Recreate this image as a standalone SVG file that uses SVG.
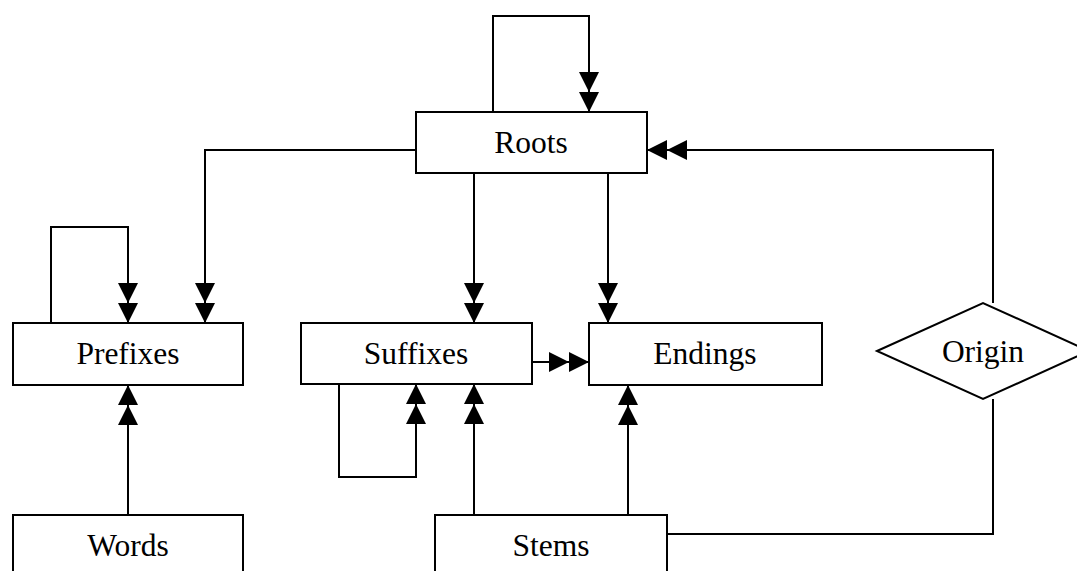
<svg xmlns="http://www.w3.org/2000/svg" width="1077" height="571" viewBox="0 0 1077 571">
<style>
.box{fill:#fff;stroke:#000;stroke-width:2}
.lbl{font-family:"Liberation Serif","Times New Roman",serif;font-size:31.5px;fill:#000;text-anchor:middle}
.c{fill:none;stroke:#000;stroke-width:2}
.a{marker-end:url(#dbl)}
</style>
<defs>
<marker id="dbl" viewBox="0 0 40 20" refX="40" refY="10" markerWidth="40" markerHeight="20" markerUnits="userSpaceOnUse" orient="auto">
<path d="M0,0 L20,10 L0,20 Z M20,0 L40,10 L20,20 Z" fill="#000"/>
</marker>
</defs>
<rect width="1077" height="571" fill="#fff"/>
<g id="connectors">
<path class="c a" d="M493,112 V16 H589 V112"/>
<path class="c a" d="M416,150 H205 V323"/>
<path class="c a" d="M51,323 V227 H128 V323"/>
<path class="c a" d="M474,173 V323"/>
<path class="c a" d="M608,173 V323"/>
<path class="c a" d="M532,362 H589"/>
<path class="c a" d="M339,384 V477 H416 V384"/>
<path class="c a" d="M128,515 V385"/>
<path class="c a" d="M474,515 V384"/>
<path class="c a" d="M628,515 V385"/>
<path class="c a" d="M993,303 V150 H647"/>
<path class="c" d="M667,534 H993 V399"/>
</g>
<g id="roots"><rect class="box" x="416" y="112" width="231" height="61"/><text class="lbl" x="531" y="153">Roots</text></g>
<g id="prefixes"><rect class="box" x="13" y="323" width="230" height="62"/><text class="lbl" x="128" y="364">Prefixes</text></g>
<g id="suffixes"><rect class="box" x="301" y="323" width="231" height="61"/><text class="lbl" x="416" y="364">Suffixes</text></g>
<g id="endings"><rect class="box" x="589" y="323" width="233" height="62"/><text class="lbl" x="705" y="364">Endings</text></g>
<g id="origin"><polygon class="box" points="877,351 983,303 1089,351 983,399"/><text class="lbl" x="983" y="362">Origin</text></g>
<g id="words"><rect class="box" x="13" y="515" width="230" height="90"/><text class="lbl" x="128" y="556">Words</text></g>
<g id="stems"><rect class="box" x="435" y="515" width="232" height="90"/><text class="lbl" x="551" y="556">Stems</text></g>
</svg>
